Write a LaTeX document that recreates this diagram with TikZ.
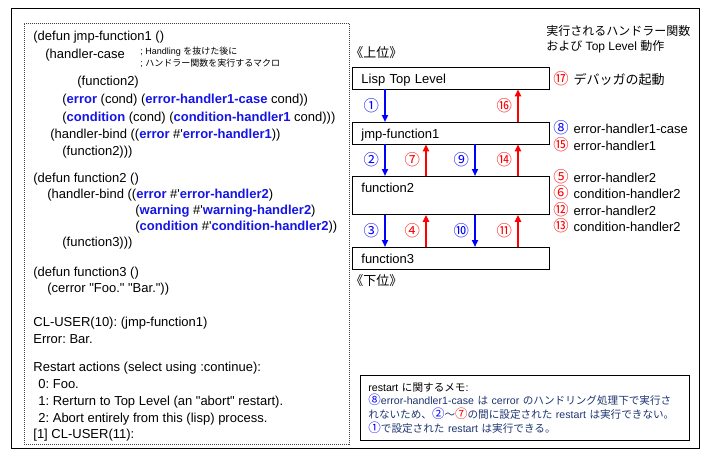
\documentclass[tikz,border=0pt]{standalone}
\usepackage{fontspec}
\setmainfont{Liberation Sans}
\newfontfamily\jp{Noto Sans CJK JP}
\usetikzlibrary{arrows.meta, positioning}
\definecolor{cblue}{HTML}{0000FF}
\definecolor{ckey}{HTML}{1414E6}
\definecolor{cred}{HTML}{FF0000}
\definecolor{cnavy}{HTML}{1C3470}
\newcommand\kw[1]{\textcolor{ckey}{\bfseries #1}}
\newcommand\bnum[1]{\textcolor{cblue}{\jp\fontsize{1.18em}{1em}\selectfont #1}}
\newcommand\rnum[1]{\textcolor{cred}{\jp\fontsize{1.18em}{1em}\selectfont #1}}
\newcommand\hq{\#\textquotesingle}
\newcommand\dq{\textquotedbl}
\frenchspacing
\tikzset{
  code/.style={anchor=base west, inner sep=0pt, font=\fontsize{13}{15}\selectfont},
  remark/.style={anchor=base west, inner sep=0pt, font=\fontsize{9}{10}\selectfont},
  level/.style={draw, anchor=north west, minimum width=197pt, text width=179pt, inner xsep=9pt, inner ysep=0pt,
    align=left, text height=16pt, text depth=5.5pt, font=\fontsize{13}{15}\selectfont},
  down/.style={-{Triangle[length=7pt, width=6pt]}, draw=cblue, line width=2pt},
  up/.style={-{Triangle[length=7pt, width=6pt]}, draw=cred, line width=2pt},
  num/.style={left, inner sep=0pt, xshift=-5pt, font=\fontsize{13}{15}\selectfont},
  side/.style={anchor=west, inner sep=0pt, font=\fontsize{13}{15}\selectfont},
  memo/.style={draw, anchor=north west, text width=313pt, inner xsep=8pt, inner ysep=6pt, minimum height=65pt,
    align=left, font=\fontsize{10.6}{13.7}\selectfont},
}
\begin{document}
\begin{tikzpicture}[x=1pt, y=-1pt, line width=0.8pt]
  \useasboundingbox (0,0) rectangle (705,459);
  \draw (11,8) rectangle (699,448);
  % lisp source and session
  \node[draw=black!75, dash pattern=on 1pt off 1pt, anchor=north west, minimum width=325pt, minimum height=421pt, inner sep=0pt] (codebox) at (24,23) {};
  \node[code] (l1) at (33,40) {(defun jmp-function1 ()};
  \node[code] (l2) at (45,58) {(handler-case};
  \node[remark] (r1) at (140,54) {; Handling {\jp を抜けた後に}};
  \node[remark] (r2) at (140,66) {; {\jp ハンドラー関数を実行するマクロ}};
  \node[code] (l3) at (77,85) {(function2)};
  \node[code] (l4) at (62,103) {(\kw{error} (cond) (\kw{error-handler1-case} cond))};
  \node[code] (l5) at (62,121) {(\kw{condition} (cond) (\kw{condition-handler1} cond)))};
  \node[code] (l6) at (50,138) {(handler-bind ((\kw{error} \hq\kw{error-handler1}))};
  \node[code] (l7) at (62,155) {(function2)))};
  \node[code] (l8) at (33,182) {(defun function2 ()};
  \node[code] (l9) at (47,198) {(handler-bind ((\kw{error} \hq\kw{error-handler2})};
  \node[code] (l10) at (135,214) {(\kw{warning} \hq\kw{warning-handler2})};
  \node[code] (l11) at (135,230) {(\kw{condition} \hq\kw{condition-handler2}))};
  \node[code] (l12) at (62,246) {(function3)))};
  \node[code] (l13) at (33,276) {(defun function3 ()};
  \node[code] (l14) at (47,292) {(cerror \dq Foo.\dq{} \dq Bar.\dq))};
  \node[code] (l15) at (33,326) {CL-USER(10): (jmp-function1)};
  \node[code] (l16) at (33,343) {Error: Bar.};
  \node[code] (l17) at (33,371) {Restart actions (select using :continue):};
  \node[code] (l18) at (38,388) {0: Foo.};
  \node[code] (l19) at (38,405) {1: Rerturn to Top Level (an \dq abort\dq{} restart).};
  \node[code] (l20) at (38,422) {2: Abort entirely from this (lisp) process.};
  \node[code] (l21) at (33,438) {[1] CL-USER(11):};
  % call stack
  \node[side] (upper) at (350,53) {\jp 《上位》};
  \node[level] (top) at (352,67) {Lisp Top Level};
  \node[level] (jf1) at (352,122) {jmp-function1};
  \node[level, text depth=22pt] (fn2) at (352,176) {function2};
  \node[level] (fn3) at (352,247) {function3};
  \node[side] (lower) at (350,281) {\jp 《下位》};
  \coordinate (ca) at (385,0);
  \coordinate (cb) at (426,0);
  \coordinate (cc) at (475,0);
  \coordinate (cd) at (518,0);
  \draw[down] (top.south -| ca) -- (jf1.north -| ca) node[num, midway] (n1) {\bnum{①}};
  \draw[up] (jf1.north -| cd) -- (top.south -| cd) node[num, midway] (n16) {\rnum{⑯}};
  \draw[down] (jf1.south -| ca) -- (fn2.north -| ca) node[num, midway] (n2) {\bnum{②}};
  \draw[up] (fn2.north -| cb) -- (jf1.south -| cb) node[num, midway] (n7) {\rnum{⑦}};
  \draw[down] (jf1.south -| cc) -- (fn2.north -| cc) node[num, midway] (n9) {\bnum{⑨}};
  \draw[up] (fn2.north -| cd) -- (jf1.south -| cd) node[num, midway] (n14) {\rnum{⑭}};
  \draw[down] (fn2.south -| ca) -- (fn3.north -| ca) node[num, midway] (n3) {\bnum{③}};
  \draw[up] (fn3.north -| cb) -- (fn2.south -| cb) node[num, midway] (n4) {\rnum{④}};
  \draw[down] (fn2.south -| cc) -- (fn3.north -| cc) node[num, midway] (n10) {\bnum{⑩}};
  \draw[up] (fn3.north -| cd) -- (fn2.south -| cd) node[num, midway] (n11) {\rnum{⑪}};
  % handlers and top level actions
  \node[side, font=\fontsize{12}{14}\selectfont] (head1) at (546,31) {\jp 実行されるハンドラー関数};
  \node[side, font=\fontsize{12}{14}\selectfont] (head2) at (546,47) {{\jp および} Top Level {\jp 動作}};
  \node[side] (s17) at (553,79) {\rnum{⑰}\hspace{5pt}{\jp デバッガの起動}};
  \node[side] (s8) at (553,128) {\bnum{⑧}\hspace{5pt}error-handler1-case};
  \node[side] (s15) at (553,145) {\rnum{⑮}\hspace{5pt}error-handler1};
  \node[side] (s5) at (553,177) {\rnum{⑤}\hspace{5pt}error-handler2};
  \node[side] (s6) at (553,193) {\rnum{⑥}\hspace{5pt}condition-handler2};
  \node[side] (s12) at (553,210) {\rnum{⑫}\hspace{5pt}error-handler2};
  \node[side] (s13) at (553,226) {\rnum{⑬}\hspace{5pt}condition-handler2};
  % memo
  \node[memo] (memo) at (360,375) {\mbox{restart {\jp に関するメモ}:}\\
    \mbox{\textcolor{cnavy}{\bnum{⑧}error-handler1-case {\jp は} cerror {\jp のハンドリング処理下で実行さ}}}\\
    \mbox{\textcolor{cnavy}{{\jp れないため、}\bnum{②}{\jp ～}\rnum{⑦}{\jp の間に設定された} restart {\jp は実行できない。}}}\\
    \mbox{\textcolor{cnavy}{\bnum{①}{\jp で設定された} restart {\jp は実行できる。}}}};
\end{tikzpicture}
\end{document}
